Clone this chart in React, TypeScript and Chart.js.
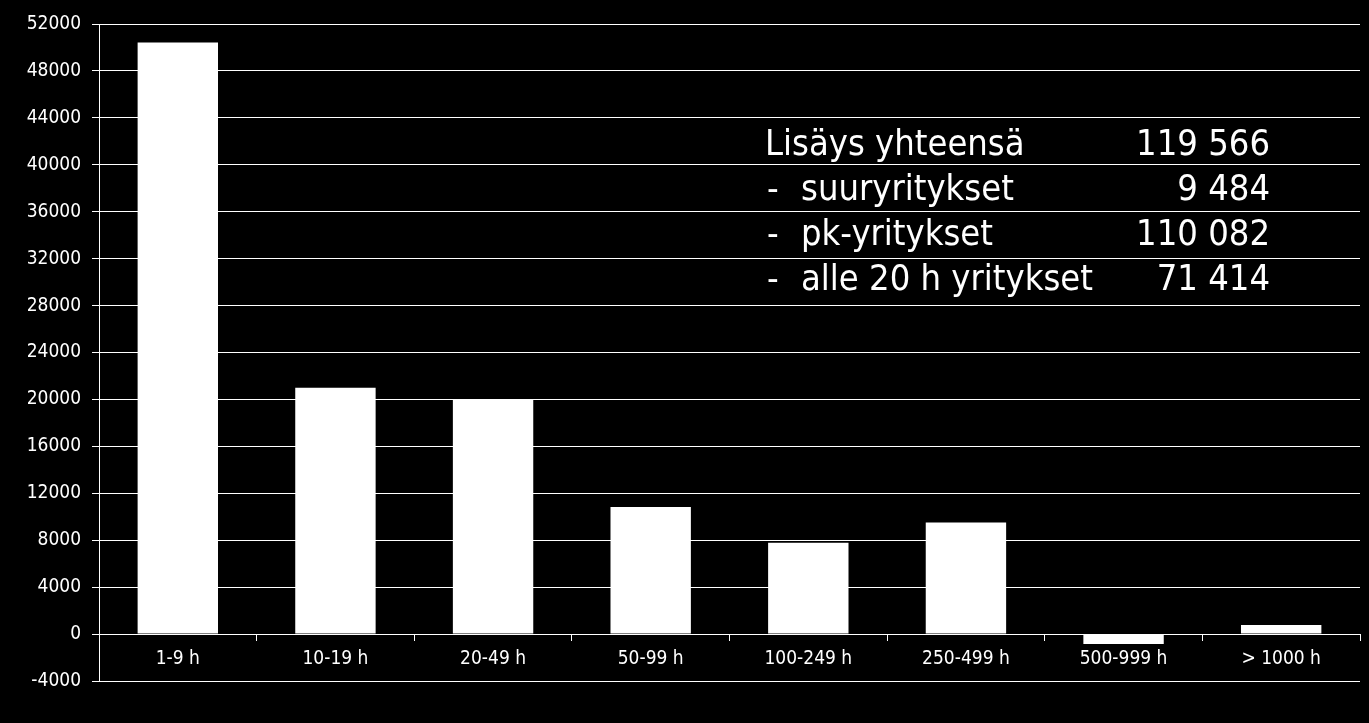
import React, { useEffect, useRef } from 'react';
import Chart from 'chart.js/auto';

const categories = ['1-9 h', '10-19 h', '20-49 h', '50-99 h', '100-249 h', '250-499 h', '500-999 h', '> 1000 h'];
const increase = [50420, 20994, 19960, 10840, 7780, 9500, -850, 770];
const yMin = -4000;
const yMax = 52000;
const yStep = 4000;

const summaryLabels = ['Lisäys yhteensä', 'suuryritykset', 'pk-yritykset', 'alle 20 h yritykset'];
const summaryDashed = [false, true, true, true];
const summaryValues = ['119 566', '9 484', '110 082', '71 414'];

const FONT = "'DejaVu Sans Condensed', 'Liberation Sans Narrow', 'DejaVu Sans', sans-serif";

// summary text block drawn over the plot
const summaryPlugin = {
  id: 'summary',
  afterDraw(chart: Chart) {
    const { ctx, chartArea } = chart;
    const left = chartArea.left + 666;
    const right = chartArea.left + 1171;
    ctx.save();
    ctx.fillStyle = '#ffffff';
    ctx.font = `36px ${FONT}`;
    ctx.textBaseline = 'alphabetic';
    summaryLabels.forEach((label, i) => {
      const y = chartArea.top + 131 + i * 45;
      ctx.textAlign = 'left';
      if (summaryDashed[i]) {
        ctx.fillText('-', left + 2, y);
        ctx.fillText(label, left + 36, y);
      } else {
        ctx.fillText(label, left, y);
      }
      ctx.textAlign = 'right';
      ctx.fillText(summaryValues[i], right, y);
    });
    ctx.restore();
  }
};

export default function App() {
  const canvasRef = useRef<HTMLCanvasElement | null>(null);

  useEffect(() => {
    if (!canvasRef.current) return;
    const chart = new Chart(canvasRef.current, {
      type: 'bar',
      data: {
        labels: categories,
        datasets: [
          {
            data: increase,
            backgroundColor: '#ffffff',
            borderWidth: 0,
            barPercentage: 0.51,
            categoryPercentage: 1
          }
        ]
      },
      options: {
        animation: false,
        responsive: true,
        maintainAspectRatio: false,
        layout: { padding: { left: 0, top: 24, right: 9, bottom: 42 } },
        plugins: {
          legend: { display: false },
          tooltip: { enabled: false }
        },
        scales: {
          x: {
            position: { y: 0 },
            grid: {
              display: true,
              drawOnChartArea: false,
              drawTicks: true,
              tickLength: 6,
              color: '#ffffff',
              offset: true
            },
            border: { display: true, color: '#ffffff', width: 1 },
            ticks: {
              color: '#ffffff',
              font: { family: FONT, size: 19 },
              padding: 8,
              maxRotation: 0
            }
          },
          y: {
            min: yMin,
            max: yMax,
            afterFit: (scale) => {
              scale.width = 99;
            },
            grid: {
              color: '#ffffff',
              lineWidth: 1,
              drawTicks: true,
              tickLength: 7
            },
            border: { display: true, color: '#ffffff', width: 1 },
            ticks: {
              stepSize: yStep,
              color: '#ffffff',
              padding: 11,
              font: { family: FONT, size: 19 },
              callback: (value) => String(value)
            }
          }
        }
      },
      plugins: [summaryPlugin]
    });
    return () => chart.destroy();
  }, []);

  return (
    <div style={{ position: 'fixed', left: 0, top: 0, width: 1369, height: 723, background: '#000000' }}>
      <canvas ref={canvasRef} />
    </div>
  );
}
